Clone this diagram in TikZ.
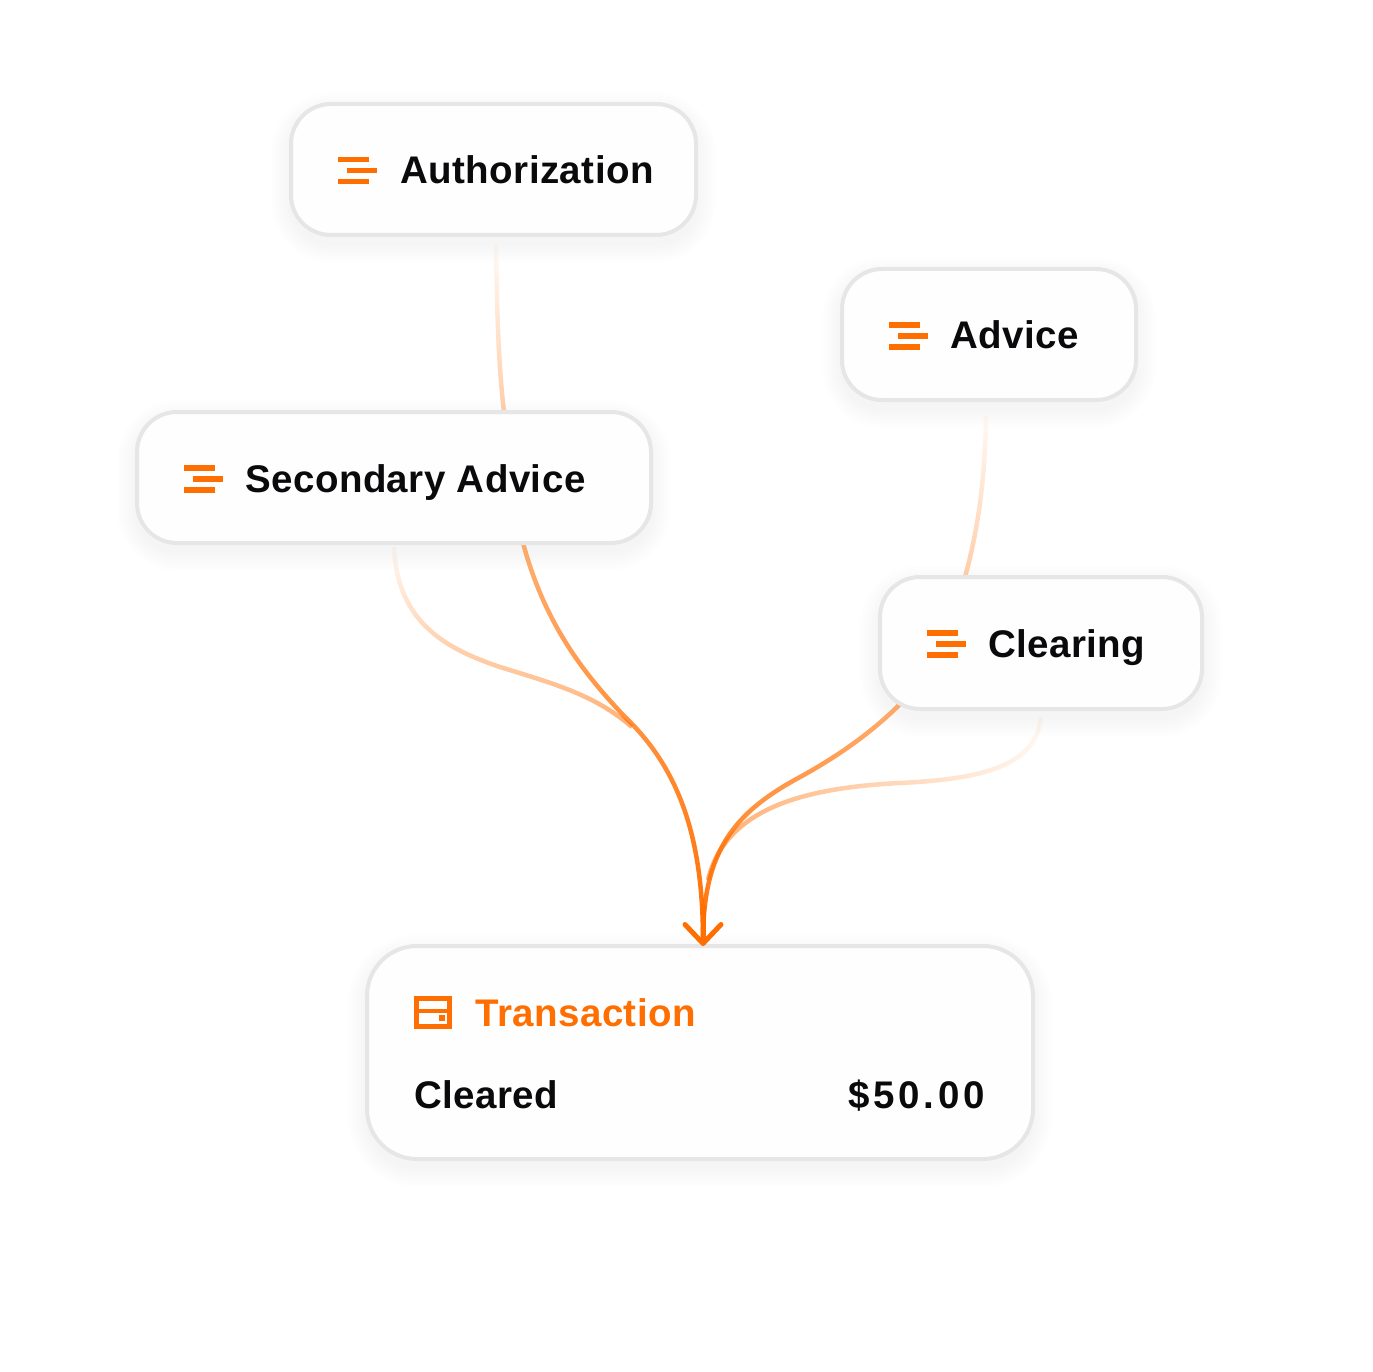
\documentclass[tikz,border=0pt]{standalone}
\usepackage{fontspec}
\setmainfont{Liberation Sans}
\usepackage{xcolor}
\usepackage{tikz}
\usetikzlibrary{arrows.meta, backgrounds, fadings}
\definecolor{flow}{RGB}{255,110,0}
\definecolor{cardline}{RGB}{230,230,230}
\definecolor{cardfill}{RGB}{254,254,254}
\definecolor{ink}{RGB}{10,10,12}
\tikzfading[name=fadeupper, top color=transparent!97, bottom color=transparent!65]
\tikzfading[name=fademain, top color=transparent!45, middle color=transparent!0, bottom color=transparent!0]
\tikzfading[name=fadeside, top color=transparent!97, bottom color=transparent!45]
\tikzfading[name=faderight, left color=transparent!45, right color=transparent!95]
\begin{document}
\begin{tikzpicture}[x=1pt,y=-1pt,
  card/.style={draw=cardline, line width=4pt, fill=cardfill, rounded corners=40pt, inner sep=0pt, outer sep=0pt},
  label/.style={anchor=base west, inner sep=0pt, text=ink, font=\fontsize{38.5}{46}\selectfont\bfseries\addfontfeatures{LetterSpace=1.2}},
  flowline/.style={draw=flow, line width=4.5pt},
  bars/.pic={
    \fill[flow] (0,0) rectangle (31,5.5);
    \fill[flow] (8.5,11) rectangle (39,16.5);
    \fill[flow] (0,22) rectangle (31,27.5);
  }]
  \useasboundingbox (0,0) rectangle (1373,1372);

  \node[card, minimum width=405pt, minimum height=131pt] (auth) at (493.5,169.5) {};
  \node[card, minimum width=294pt, minimum height=131pt] (advice) at (989,334.5) {};
  \node[card, minimum width=514pt, minimum height=131pt] (secondary) at (394,477.5) {};
  \node[card, minimum width=322pt, minimum height=132pt] (clearing) at (1041,643) {};
  \node[card, rounded corners=50pt, minimum width=666pt, minimum height=213pt] (transaction) at (700,1052.5) {};

  \pic at (338,157) {bars};
  \pic at (889,322) {bars};
  \pic at (184,465) {bars};
  \pic at (927,630) {bars};
  \node[label] (authtext) at (400,184) {Authorization};
  \node[label] (advicetext) at (950,348.5) {Advice};
  \node[label] (secondarytext) at (245,492) {Secondary Advice};
  \node[label] (clearingtext) at (988,657) {Clearing};

  \draw[flow, line width=5pt] (416.5,998.5) rectangle (449.5,1026.5);
  \fill[flow] (416,1009) rectangle (450,1013);
  \fill[flow] (439,1015) rectangle (445,1021);
  \node[label, text=flow] (transactiontext) at (475,1026) {Transaction};
  \node[label] (clearedtext) at (414,1108) {Cleared};
  \node[label, anchor=base east, font=\fontsize{38.5}{46}\selectfont\bfseries\addfontfeatures{LetterSpace=9.5}] (amounttext) at (985,1108) {\$50.00};

  \begin{scope}[on background layer]
    \foreach \c/\r in {auth/40,advice/40,secondary/40,clearing/40,transaction/50}
      \foreach \g in {2,4,...,20}
        \fill[black, opacity=.004, rounded corners=\r pt+\g pt]
          ([xshift=-\g pt,yshift=-\g pt-8pt]\c.south west) rectangle ([xshift=\g pt,yshift=\g pt-8pt]\c.north east);

    \draw[flowline, path fading=fadeupper] ([xshift=2.5pt,yshift=-10pt]auth.south) .. controls (497,320) and (499,370) .. ([xshift=110pt]secondary.north);
    \draw[flowline, path fading=fadeupper] ([xshift=-3pt,yshift=-16pt]advice.south) .. controls (985,480) and (978,530) .. ([xshift=-76pt]clearing.north);
    \draw[flowline, path fading=fadeside] ([yshift=-4pt]secondary.south) .. controls (397,625) and (450,650) .. (500,667) .. controls (555,684) and (595,695) .. (632,727);
    \draw[flowline, path fading=fademain] ([xshift=129pt]secondary.south) .. controls (545,625) and (585,675) .. (625,717) .. controls (675,765) and (703,830) .. (703,940);
    \draw[flowline, path fading=faderight] ([yshift=-8pt]clearing.south) .. controls (1036,765) and (985,779) .. (900,783) .. controls (800,788) and (725,810) .. (708,880);
    \draw[flowline, path fading=fademain] ([xshift=24pt,yshift=9pt]clearing.south west) .. controls (875,730) and (840,755) .. (800,777) .. controls (735,812) and (703,850) .. (703,940);
  \end{scope}

  \coordinate (stem) at (703,905);
  \draw[flow, line width=5pt, -{Straight Barb[length=19pt, width=36pt, round]}] (stem) -- ([xshift=3pt]transaction.north);
\end{tikzpicture}
\end{document}
